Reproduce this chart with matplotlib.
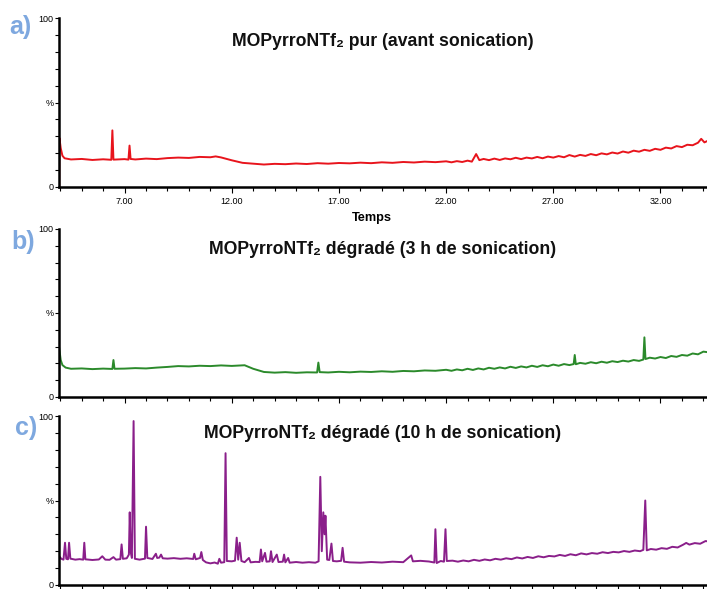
import matplotlib
matplotlib.use("Agg")
import matplotlib.pyplot as plt
from matplotlib.ticker import MultipleLocator, FixedLocator

plt.rcParams['font.family'] = ['Liberation Sans', 'DejaVu Sans']

# panel a) - pure, before sonication (time in min, intensity in %)
t_a = [3.95, 3.96, 4.02, 4.10, 4.20, 4.5, 5.0, 5.5, 6.0, 6.38, 6.43, 6.48, 7.0, 7.18, 7.23, 7.28,
       7.5, 8.0, 8.5, 9.0, 9.5, 10.0, 10.5, 11.0, 11.25, 11.5, 12.0, 12.5, 13.0, 13.5, 14.0, 14.5,
       15.0, 15.5, 16.0, 16.5, 17.0, 17.5, 18.0, 18.5, 19.0, 19.5, 20.0, 20.5, 21.0, 21.5,
       22.0, 22.25, 22.5, 22.75, 23.0, 23.2, 23.4, 23.55, 23.75, 24.0, 24.25, 24.5, 24.75, 25.0,
       25.25, 25.5, 25.75, 26.0, 26.25, 26.5, 26.75, 27.0, 27.25, 27.5, 27.75, 28.0, 28.25, 28.5,
       28.75, 29.0, 29.25, 29.5, 29.75, 30.0, 30.25, 30.5, 30.75, 31.0, 31.25, 31.5, 31.75, 32.0,
       32.25, 32.5, 32.75, 33.0, 33.25, 33.5, 33.75, 33.9, 34.05, 34.25, 34.45]
y_a = [0, 29, 23, 18.5, 17.0, 16.3, 16.6, 16.0, 16.4, 16.1, 33.5, 16.2, 16.5, 16.2, 24.5, 16.6,
       16.3, 16.8, 16.5, 17.1, 17.4, 17.2, 17.8, 17.6, 18.1, 17.5, 15.8, 14.3, 13.8, 13.3, 13.7, 13.5,
       13.9, 13.6, 14.1, 13.8, 14.2, 14.0, 14.4, 14.1, 14.6, 14.3, 14.8, 14.5, 15.0, 14.7,
       15.2, 14.6, 15.3, 14.8, 15.6, 15.0, 19.5, 15.9, 16.6, 15.9, 16.8, 16.0, 16.9, 16.4,
       17.3, 16.5, 17.4, 16.9, 17.8, 17.0, 18.0, 17.4, 18.3, 17.6, 18.9, 18.0, 19.0, 18.4,
       19.5, 18.8, 19.9, 19.3, 20.4, 19.8, 21.0, 20.3, 21.5, 20.9, 22.0, 21.4, 22.6, 22.0,
       23.3, 22.8, 24.2, 23.6, 25.0, 24.7, 26.2, 28.5, 26.4, 27.6, 27.0]

# panel b) - 3 h sonication
t_b = [3.95, 4.02, 4.10, 4.25, 4.5, 5.0, 5.5, 6.0, 6.43, 6.48, 6.53, 7.0, 7.5, 8.0, 8.5, 9.0,
       9.5, 10.0, 10.5, 11.0, 11.5, 12.0, 12.6, 13.0, 13.5, 14.0, 14.5, 15.0, 15.5, 15.98, 16.04,
       16.1, 16.5, 17.0, 17.5, 18.0, 18.5, 19.0, 19.5, 20.0, 20.5, 21.0, 21.5,
       22.0, 22.25, 22.5, 22.75, 23.0, 23.25, 23.5, 23.75, 24.0, 24.25, 24.5, 24.75, 25.0, 25.25,
       25.5, 25.75, 26.0, 26.25, 26.5, 26.75, 27.0, 27.25, 27.5, 27.75, 27.95, 28.0, 28.05, 28.25,
       28.5, 28.75, 29.0, 29.25, 29.5, 29.75, 30.0, 30.25, 30.5, 30.75, 31.0, 31.2, 31.25, 31.3,
       31.5, 31.75, 32.0, 32.25, 32.5, 32.75, 33.0, 33.25, 33.5, 33.75, 34.0, 34.25, 34.45]
y_b = [29, 22, 19, 17.5, 16.8, 17.0, 16.6, 16.9, 16.7, 22, 16.8, 16.9, 17.2, 17.0, 17.5, 17.9,
       18.4, 18.2, 18.6, 18.4, 18.8, 18.5, 18.9, 16.8, 14.9, 14.5, 14.8, 14.4, 14.7, 14.6, 20.5,
       14.8, 14.6, 15.0, 14.7, 15.1, 14.9, 15.3, 15.0, 15.5, 15.3, 15.8, 15.6,
       16.2, 15.6, 16.4, 15.9, 16.8, 16.1, 17.0, 16.4, 17.4, 16.8, 17.6, 17.0, 18.0, 17.3,
       18.2, 17.6, 18.6, 17.9, 18.9, 18.3, 19.3, 18.6, 19.6, 19.0, 19.6, 25, 19.5, 20.3,
       19.8, 20.7, 20.1, 21.0, 20.4, 21.3, 20.8, 21.6, 21.1, 22.0, 21.5, 22.3, 35.5, 22.6,
       23.4, 22.9, 23.8, 23.2, 24.4, 23.9, 25.0, 24.6, 25.9, 25.4, 27.0, 26.6, 28.3]

# panel c) - 10 h sonication
t_c = [3.95, 4.05, 4.15, 4.22, 4.28, 4.36, 4.41, 4.47, 4.7, 4.9, 5.07, 5.12, 5.17, 5.5, 5.8,
       5.96, 6.1, 6.3, 6.48, 6.6, 6.8, 6.86, 6.92, 7.1, 7.2, 7.24, 7.28, 7.34, 7.42, 7.48, 7.7,
       7.95, 8.0, 8.06, 8.3, 8.46, 8.52, 8.62, 8.7, 8.78, 9.0, 9.3, 9.6, 9.9, 10.2, 10.25, 10.32,
       10.52, 10.58, 10.65, 10.8, 11.0, 11.2, 11.35, 11.42, 11.5, 11.65, 11.71, 11.77, 12.0, 12.15,
       12.23, 12.3, 12.37, 12.45, 12.6, 12.8, 12.88, 13.1, 13.3, 13.36, 13.42, 13.55, 13.62, 13.77,
       13.83, 13.9, 14.1, 14.18, 14.38, 14.44, 14.5, 14.63, 14.7, 15.0, 15.3, 15.6, 15.9, 16.05,
       16.13, 16.2, 16.27, 16.33, 16.37, 16.45, 16.55, 16.65, 16.72, 16.9, 17.1, 17.17, 17.24,
       17.5, 18.0, 18.5, 19.0, 19.5, 20.0, 20.37, 20.45, 20.8, 21.2, 21.45, 21.5, 21.56, 21.75,
       21.9, 21.97, 22.03,
       22.3, 22.55, 22.8, 23.05, 23.3, 23.55, 23.8, 24.05, 24.3, 24.55, 24.8, 25.05, 25.3, 25.55,
       25.8, 26.05, 26.3, 26.55, 26.8, 27.05, 27.3, 27.55, 27.8, 28.05, 28.3, 28.55, 28.8, 29.05,
       29.3, 29.55, 29.8, 30.05, 30.3, 30.55, 30.8, 31.05, 31.2, 31.29, 31.36, 31.55, 31.8, 32.05,
       32.3, 32.55, 32.8, 33.05, 33.2, 33.35, 33.6, 33.85, 34.1, 34.3, 34.45]
y_c = [17, 15.5, 15.0, 25, 15.5, 15.2, 25, 15.6, 15.0, 15.3, 15.0, 25, 15.2, 14.8, 15.1,
       17, 15.0, 14.9, 16.5, 15.0, 15.3, 24, 15.5, 15.8, 18, 43, 20, 16, 97, 15.5, 15.0,
       15.6, 34.5, 16.0, 15.4, 18.5, 16.0, 16.2, 18.0, 15.8, 15.6, 15.9, 15.5, 15.8, 15.4, 18.5, 15.2,
       16.0, 19.5, 14.8, 13.4, 12.8, 13.3, 12.6, 15.5, 13.2, 13.5, 78, 14.2, 14.0, 14.4,
       28, 15.0, 25, 14.2, 13.5, 16, 13.4, 13.7, 13.6, 21, 14.0, 19, 13.8, 14.0,
       20, 13.6, 18, 13.6, 13.8, 18, 13.4, 16, 13.2, 13.6, 13.2, 13.5, 13.2, 14.0,
       64, 20, 43, 30, 41, 15, 14.8, 24.5, 14.2, 14.0, 14.3, 22, 13.8,
       13.4, 13.2, 13.6, 13.3, 13.8, 13.5, 17.5, 14.0, 14.3, 13.9, 13.3, 33, 13.0, 14.2,
       13.8, 33, 14.2,
       14.4, 13.8, 14.5, 14.0, 14.9, 14.3, 15.1, 14.6, 15.5, 15.0, 15.8, 15.3, 16.3, 15.7,
       16.6, 16.0, 17.0, 16.4, 17.2, 16.9, 17.8, 17.2, 18.2, 17.6, 18.7, 18.1, 18.9, 18.5,
       19.4, 18.9, 19.6, 19.3, 20.1, 19.6, 20.4, 20.0, 20.8, 50, 20.5, 21.3, 20.9, 21.8,
       21.4, 22.6, 22.2, 23.8, 24.9, 23.9, 24.8, 24.4, 26.0, 25.7, 27.0]

titles = ["MOPyrroNTf\u2082 pur (avant sonication)",
          "MOPyrroNTf\u2082 dégradé (3 h de sonication)",
          "MOPyrroNTf\u2082 dégradé (10 h de sonication)"]
letters = ["a)", "b)", "c)"]
colors = ["#e8141c", "#2b8a2b", "#8a1f8a"]
x_ticks = [7, 12, 17, 22, 27, 32]

W, H = 707, 589
fig = plt.figure(figsize=(W / 100, H / 100), dpi=100)

# pixel rows of the 100 % and 0 % levels for each panel
rows = [(18, 187), (229, 397), (416, 585)]
title_rows = [42, 250, 433]
x0 = 59

series = [(t_a, y_a), (t_b, y_b), (t_c, y_c)]
for i, (top, bot) in enumerate(rows):
    ax = fig.add_axes([x0 / W, 1 - bot / H, (W - x0) / W + 0.01, (bot - top) / H])
    t, y = series[i]
    ax.plot(t, y, color=colors[i], lw=1.4)
    ax.set_xlim(3.94, 34.5)
    ax.set_ylim(0, 100)
    for s in ["top", "right"]:
        ax.spines[s].set_visible(False)
    for s in ["left", "bottom"]:
        ax.spines[s].set_linewidth(1.8)
    ax.yaxis.set_major_locator(FixedLocator([0, 50, 100]))
    ax.set_yticklabels(["0", "%", "100"], fontsize=6.5)
    ax.yaxis.set_minor_locator(MultipleLocator(10))
    ax.xaxis.set_major_locator(FixedLocator(x_ticks))
    ax.xaxis.set_minor_locator(MultipleLocator(1))
    ax.tick_params(axis="y", which="both", length=3, width=0.8, pad=1)
    ax.tick_params(axis="x", which="major", length=4, width=0.8, pad=3)
    ax.tick_params(axis="x", which="minor", length=3, width=0.8)
    if i == 0:
        ax.set_xticklabels(["%.2f" % v for v in x_ticks], fontsize=6.5)
    else:
        ax.set_xticklabels([])
    ax.patch.set_alpha(0)

    fig.text(383 / W, 1 - title_rows[i] / H, titles[i], ha="center", va="center",
             fontsize=12.7, fontweight="bold", color="#111111")

fig.text(372 / W, 1 - 218 / H, "Temps", ha="center", va="center", fontsize=9.2, fontweight="bold")

letter_pos = [(20, 27), (23, 242), (26, 428)]
for (lx, ly), lab in zip(letter_pos, letters):
    fig.text(lx / W, 1 - ly / H, lab, ha="center", va="center", fontsize=18,
             fontweight="bold", color="#7ea8df")

fig.savefig("out.png", dpi=100)
